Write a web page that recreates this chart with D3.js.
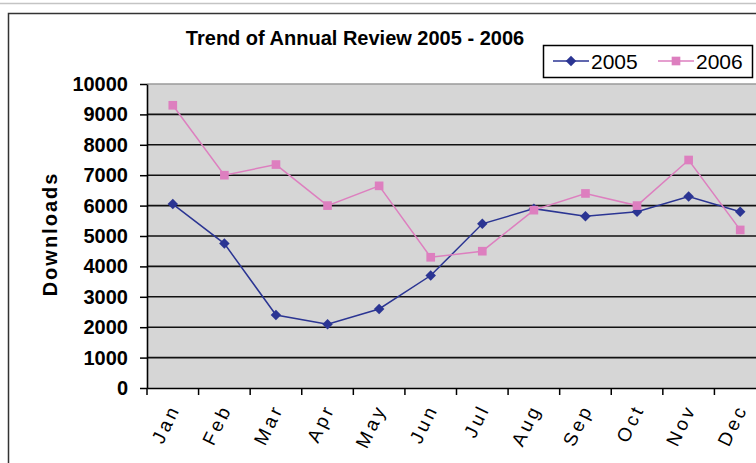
<!DOCTYPE html>
<html>
<head>
<meta charset="utf-8">
<script src="https://cdn.jsdelivr.net/npm/d3@7"></script>
<style>
  body { margin: 0; background: #fff; }
  text { font-family: "Liberation Sans", Arial, sans-serif; }
</style>
</head>
<body>
<div id="chart"></div>
<script>
// data
var months = ["Jan","Feb","Mar","Apr","May","Jun","Jul","Aug","Sep","Oct","Nov","Dec"];
var downloads2005 = [6050, 4750, 2400, 2100, 2600, 3700, 5400, 5900, 5650, 5800, 6300, 5800];
var downloads2006 = [9300, 7000, 7350, 6000, 6650, 4300, 4500, 5850, 6400, 6000, 7500, 5200];
var yTicks = [0,1000,2000,3000,4000,5000,6000,7000,8000,9000,10000];

var W = 756, H = 463;
var plot = { left: 147, top: 84, right: 766, bottom: 388 };

var svg = d3.select("#chart").append("svg")
    .attr("width", W)
    .attr("height", H);

// page line + chart frame
svg.append("line")
    .attr("x1", 0).attr("x2", W).attr("y1", 3.5).attr("y2", 3.5)
    .style("stroke", "#c4c4c4").style("stroke-width", 1.5);
svg.append("rect")
    .attr("x", 8.5).attr("y", 13.5).attr("width", W + 20).attr("height", H)
    .style("fill", "#fff").style("stroke", "#333").style("stroke-width", 1.5);

var x = d3.scaleBand().domain(months).range([plot.left, plot.right]);
var y = d3.scaleLinear().domain([0, 10000]).range([plot.bottom, plot.top]);

// plot area
svg.append("rect")
    .attr("x", plot.left).attr("y", plot.top)
    .attr("width", plot.right - plot.left).attr("height", plot.bottom - plot.top)
    .style("fill", "#d6d6d6");
svg.append("line")
    .attr("x1", plot.left).attr("x2", plot.right)
    .attr("y1", y(10000)).attr("y2", y(10000))
    .style("stroke", "#9a9a9a").style("stroke-width", 1.5);

// gridlines
svg.selectAll(".grid")
    .data(yTicks.filter(d => d > 0 && d < 10000))
    .enter().append("line")
    .attr("class", "grid")
    .attr("x1", plot.left).attr("x2", plot.right)
    .attr("y1", d => y(d)).attr("y2", d => y(d))
    .style("stroke", "#111").style("stroke-width", 1.6);

// y axis
var yAxis = svg.append("g")
    .attr("transform", "translate(" + plot.left + ",0)")
    .call(d3.axisLeft(y).tickValues(yTicks).tickFormat(d3.format("d"))
        .tickSize(7).tickPadding(12).tickSizeOuter(0));
yAxis.select(".domain").style("stroke", "#000").style("stroke-width", 1.6);
yAxis.selectAll(".tick line").style("stroke", "#000").style("stroke-width", 1.5);
yAxis.selectAll("text")
    .style("font-size", "20px").style("font-weight", "bold").style("fill", "#000")
    .style("font-family", "'Liberation Sans', Arial, sans-serif");

// x axis
var xAxis = svg.append("g")
    .attr("transform", "translate(0," + plot.bottom + ")")
    .call(d3.axisBottom(x).tickSize(0).tickSizeOuter(0));
xAxis.select(".domain").style("stroke", "#000").style("stroke-width", 1.6);
xAxis.selectAll(".tick text")
    .attr("y", 0).attr("dy", 0)
    .attr("transform", "translate(8,20) rotate(-64)")
    .style("text-anchor", "end")
    .style("font-size", "19px").style("letter-spacing", "3.5px").style("fill", "#000")
    .style("font-family", "'Liberation Sans', Arial, sans-serif");
// tick marks on category boundaries
svg.selectAll(".xtick")
    .data(months)
    .enter().append("line")
    .attr("class", "xtick")
    .attr("x1", d => x(d)).attr("x2", d => x(d))
    .attr("y1", plot.bottom).attr("y2", plot.bottom + 7)
    .style("stroke", "#000").style("stroke-width", 1.5);

// series
var series = [
    { name: "2005", values: downloads2005, color: "#2b3593", symbol: d3.symbolDiamond2, size: 70 },
    { name: "2006", values: downloads2006, color: "#dd7fbf", symbol: d3.symbolSquare, size: 75 }
];

var line = d3.line()
    .x((d, i) => x(months[i]) + x.bandwidth() / 2)
    .y(d => y(d));

series.forEach(s => {
    svg.append("path")
        .datum(s.values)
        .attr("d", line)
        .style("fill", "none")
        .style("stroke", s.color)
        .style("stroke-width", 1.5);
    svg.selectAll(".m" + s.name)
        .data(s.values)
        .enter().append("path")
        .attr("d", d3.symbol().type(s.symbol).size(s.size))
        .attr("transform", (d, i) => "translate(" + (x(months[i]) + x.bandwidth() / 2) + "," + y(d) + ")")
        .style("fill", s.color);
});

// title
svg.append("text")
    .attr("x", 355).attr("y", 45)
    .attr("text-anchor", "middle")
    .style("font-size", "20px").style("font-weight", "bold")
    .text("Trend of Annual Review 2005 - 2006");

// y label
svg.append("text")
    .attr("transform", "translate(57,234) rotate(-90)")
    .attr("text-anchor", "middle")
    .style("font-size", "20px").style("font-weight", "bold").style("letter-spacing", "2px")
    .text("Downloads");

// legend
var legend = svg.append("g");
legend.append("rect")
    .attr("x", 543.5).attr("y", 45.5).attr("width", 209).attr("height", 32)
    .style("fill", "#fff").style("stroke", "#000").style("stroke-width", 1.5);
var legendX = [553, 658];
series.forEach((s, i) => {
    var lx = legendX[i];
    legend.append("line")
        .attr("x1", lx).attr("x2", lx + 36).attr("y1", 61).attr("y2", 61)
        .style("stroke", s.color).style("stroke-width", 1.5);
    legend.append("path")
        .attr("d", d3.symbol().type(s.symbol).size(s.size))
        .attr("transform", "translate(" + (lx + 18) + ",61)")
        .style("fill", s.color);
    legend.append("text")
        .attr("x", lx + 38).attr("y", 68.5)
        .style("font-size", "21px")
        .text(s.name);
});
</script>
</body>
</html>
